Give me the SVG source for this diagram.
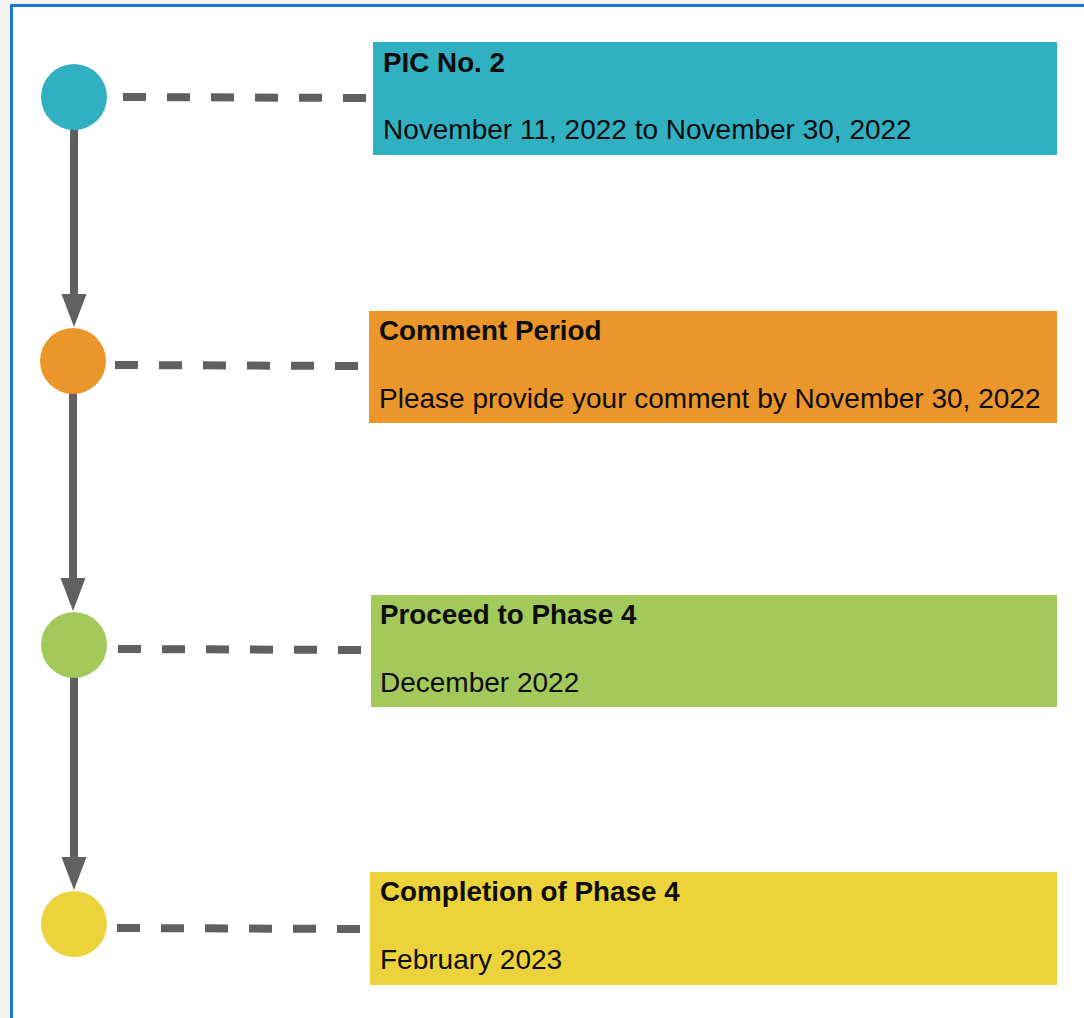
<svg xmlns="http://www.w3.org/2000/svg" width="1084" height="1018" viewBox="0 0 1084 1018">
<defs>
<style>
.bg{fill:#f3f3f3}
.frame{fill:#ffffff;stroke:#1a78d6;stroke-width:3}
.dash{stroke:#606060;stroke-width:8;stroke-dasharray:23 21;fill:none}
.vline{stroke:#606060;stroke-width:8;fill:none}
.head{fill:#606060}
.t{font-family:"Liberation Sans",Arial,sans-serif;fill:#0d0d0d}
.title{font-size:27.8px;font-weight:bold}
.sub{font-size:28px}
</style>
</defs>
<rect class="bg" x="0" y="0" width="1084" height="1018"/>
<rect class="frame" x="11.5" y="5.5" width="1100" height="1100"/>
<g id="connectors">
<line class="dash" x1="123" y1="97" x2="367" y2="98"/>
<line class="dash" x1="115" y1="365" x2="358" y2="366"/>
<line class="dash" x1="118" y1="649" x2="361" y2="650"/>
<line class="dash" x1="117" y1="928" x2="361" y2="929"/>
<line class="vline" x1="74" y1="128" x2="74" y2="300"/>
<polygon class="head" points="61.5,294 86.5,294 74,327"/>
<line class="vline" x1="73" y1="392" x2="73" y2="584"/>
<polygon class="head" points="60.5,578 85.5,578 73,611"/>
<line class="vline" x1="74" y1="676" x2="74" y2="863"/>
<polygon class="head" points="61.5,857 86.5,857 74,890"/>
</g>
<g id="node1">
<circle cx="74" cy="97" r="33" fill="#31b0c2"/>
<rect x="373" y="42" width="684" height="113" fill="#31b0c2"/>
<text class="t title" x="383" y="72">PIC No. 2</text>
<text class="t sub" x="383" y="139">November 11, 2022 to November 30, 2022</text>
</g>
<g id="node2">
<circle cx="73" cy="361" r="33" fill="#eb962b"/>
<rect x="369" y="311" width="688" height="112" fill="#eb962b"/>
<text class="t title" x="379" y="340">Comment Period</text>
<text class="t sub" x="379" y="408">Please provide your comment by November 30, 2022</text>
</g>
<g id="node3">
<circle cx="74" cy="645" r="33" fill="#a2c95a"/>
<rect x="371" y="595" width="686" height="112" fill="#a2c95a"/>
<text class="t title" x="380" y="624">Proceed to Phase 4</text>
<text class="t sub" x="380" y="692">December 2022</text>
</g>
<g id="node4">
<circle cx="74" cy="924" r="33" fill="#ecd33b"/>
<rect x="370" y="872" width="687" height="113" fill="#ecd33b"/>
<text class="t title" x="380" y="901">Completion of Phase 4</text>
<text class="t sub" x="380" y="969">February 2023</text>
</g>
</svg>
